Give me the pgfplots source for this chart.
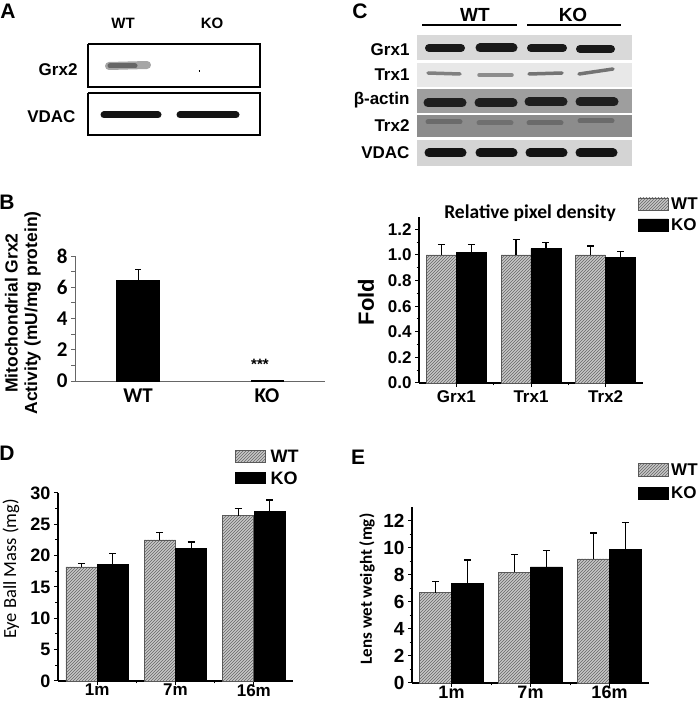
\documentclass[border=0pt]{standalone}
\usepackage{pgfplots}
\pgfplotsset{compat=1.18}
\usepackage{fontspec}
\setmainfont{Liberation Sans}
\newfontfamily\calibri{Carlito}
\usetikzlibrary{patterns}
\newcommand{\fs}[1]{\fontsize{#1}{#1}\selectfont}

\pgfplotsset{
  wtfill/.style={draw=black!65, line width=0.5pt, fill=black!22,
    postaction={pattern=north east lines, pattern color=black!60}},
  kofill/.style={draw=black, line width=0.5pt, fill=black},
  errs/.style={error bars/.cd, y dir=plus, y explicit,
    error bar style={line width=1.3pt, black},
    error mark options={line width=1.3pt, mark size=3.5pt, black, rotate=90}},
  barchart/.style={
    scale only axis, axis lines=left, axis line style={-, line width=1.2pt},
    tick align=outside, major tick length=4pt, minor tick length=2.5pt,
    tick style={black, line width=1pt},
    /pgf/number format/assume math mode=true,
    ybar, bar shift=0pt, clip=false,
    xmin=0.5, xmax=3.5, xtick={1,2,3}, minor xtick={1.5,2.5},
    ymin=0,
  },
}

\begin{document}
\begin{tikzpicture}
\path[use as bounding box] (0,0) rectangle (700pt,703pt);

% ---------- canvas for blots, text and legends (pixel coordinates) ----------
\begin{axis}[at={(0,0)}, anchor=south west, scale only axis,
  width=700pt, height=703pt, xmin=0, xmax=700, ymin=0, ymax=703,
  y dir=reverse, hide axis, clip=false, no markers]

% Panel A blots
\addplot[draw=black, line width=1.3pt] coordinates {(88,44) (260,44) (260,87) (88,87) (88,44)};
\addplot[draw=black, line width=1.3pt] coordinates {(88,93) (260,93) (260,135) (88,135) (88,93)};
\addplot[line width=8pt, line cap=round, black!35] coordinates {(109,66) (147,65)};
\addplot[line width=5pt, line cap=round, black!60] coordinates {(110,66) (135,66)};
\addplot[line width=2pt, black] coordinates {(198.5,71) (199.5,71)};
\addplot[line width=7pt, line cap=round, black!92] coordinates {(104,115) (158,115)};
\addplot[line width=7pt, line cap=round, black!92] coordinates {(180,115) (236,115)};

% Panel C blots: strip backgrounds
\addplot[fill=black!15, draw=none] coordinates {(417,35) (632,35) (632,60) (417,60)};
\addplot[fill=black!9, draw=none] coordinates {(417,63) (632,63) (632,87) (417,87)};
\addplot[fill=black!38, draw=none] coordinates {(417,89) (632,89) (632,113) (417,113)};
\addplot[fill=black!45, draw=none] coordinates {(417,115) (632,115) (632,137) (417,137)};
\addplot[fill=black!17, draw=none] coordinates {(417,140) (632,140) (632,166) (417,166)};
% Grx1
\addplot[line width=8pt, line cap=round, black!90] coordinates {(429,48) (461,48)};
\addplot[line width=9pt, line cap=round, black!90] coordinates {(480,48) (513,48)};
\addplot[line width=8pt, line cap=round, black!90] coordinates {(531,48) (563,48)};
\addplot[line width=8pt, line cap=round, black!90] coordinates {(580,49) (611,49)};
% Trx1
\addplot[line width=3.5pt, line cap=round, black!50] coordinates {(428,73) (460,74)};
\addplot[line width=3.5pt, line cap=round, black!45] coordinates {(479,75) (512,75)};
\addplot[line width=3.5pt, line cap=round, black!55] coordinates {(529,74) (562,73)};
\addplot[line width=3.5pt, line cap=round, black!55] coordinates {(579,74) (613,69)};
% beta-actin
\addplot[line width=9pt, line cap=round, black!88] coordinates {(428,103) (462,103)};
\addplot[line width=9pt, line cap=round, black!88] coordinates {(479,103) (513,103)};
\addplot[line width=9pt, line cap=round, black!88] coordinates {(529,102) (563,102)};
\addplot[line width=9pt, line cap=round, black!88] coordinates {(580,102) (614,102)};
% Trx2
\addplot[line width=5pt, line cap=round, black!58] coordinates {(428,122) (460,122)};
\addplot[line width=5pt, line cap=round, black!56] coordinates {(479,123) (511,123)};
\addplot[line width=5pt, line cap=round, black!58] coordinates {(529,123) (561,123)};
\addplot[line width=5pt, line cap=round, black!58] coordinates {(580,121) (612,121)};
% VDAC
\addplot[line width=9pt, line cap=round, black!92] coordinates {(429,153) (462,153)};
\addplot[line width=9pt, line cap=round, black!92] coordinates {(480,153) (513,153)};
\addplot[line width=9pt, line cap=round, black!92] coordinates {(530,153) (563,153)};
\addplot[line width=9pt, line cap=round, black!92] coordinates {(580,153) (613,153)};
% group lines
\addplot[line width=1.5pt, black] coordinates {(422,25) (517,25)};
\addplot[line width=1.5pt, black] coordinates {(527,25) (621,25)};

% Legends
\addplot[wtfill] coordinates {(638,198) (668,198) (668,210) (638,210) (638,198)};
\addplot[kofill] coordinates {(638,219) (668,219) (668,231) (638,231) (638,219)};
\addplot[wtfill] coordinates {(235,450) (265,450) (265,462) (235,462) (235,450)};
\addplot[kofill] coordinates {(235,472) (265,472) (265,483) (235,483) (235,472)};
\addplot[wtfill] coordinates {(638,463) (668,463) (668,476) (638,476) (638,463)};
\addplot[kofill] coordinates {(638,487) (668,487) (668,499) (638,499) (638,487)};

% Text
\node[font=\bfseries\fs{21}] at (axis cs:8,11) {A};
\node[font=\bfseries\fs{21}] at (axis cs:7,202) {B};
\node[font=\bfseries\fs{21}] at (axis cs:360,11) {C};
\node[font=\bfseries\fs{21}] at (axis cs:7,453) {D};
\node[font=\bfseries\fs{21}] at (axis cs:358,457) {E};

\node[font=\bfseries\fs{15}] at (axis cs:123,23) {WT};
\node[font=\bfseries\fs{15}] at (axis cs:212,23) {KO};
\node[font=\bfseries\fs{17}, anchor=east] at (axis cs:81,70) {Grx2};
\node[font=\bfseries\fs{17}, anchor=east] at (axis cs:79,117) {VDAC};

\node[font=\bfseries\fs{19}] at (axis cs:475,15) {WT};
\node[font=\bfseries\fs{19}] at (axis cs:573,15) {KO};
\node[font=\bfseries\fs{17}, anchor=east] at (axis cs:413,50) {Grx1};
\node[font=\bfseries\fs{17}, anchor=east] at (axis cs:413,75) {Trx1};
\node[font=\bfseries\fs{17}, anchor=east] at (axis cs:413,100) {β-actin};
\node[font=\bfseries\fs{17}, anchor=east] at (axis cs:413,126) {Trx2};
\node[font=\bfseries\fs{17}, anchor=east] at (axis cs:413,153) {VDAC};

\node[font=\bfseries\fs{17}, anchor=west, inner sep=2pt] at (axis cs:669,204) {WT};
\node[font=\bfseries\fs{17}, anchor=west, inner sep=2pt] at (axis cs:669,225) {KO};
\node[font=\bfseries\fs{18}, anchor=west] at (axis cs:267,456) {WT};
\node[font=\bfseries\fs{18}, anchor=west] at (axis cs:267,478) {KO};
\node[font=\bfseries\fs{17}, anchor=west, inner sep=2pt] at (axis cs:669,470) {WT};
\node[font=\bfseries\fs{17}, anchor=west, inner sep=2pt] at (axis cs:669,493) {KO};

\node[font=\calibri\bfseries\fs{19.5}] at (axis cs:530,213) {Relative pixel density};
\node[font=\bfseries\fs{22}, rotate=90] at (axis cs:366,302) {Fold};
\node[font=\bfseries\fs{17.5}, rotate=90, align=center] at (axis cs:23,313) {Mitochondrial Grx2\\[2pt]Activity (mU/mg protein)};
\node[font=\calibri\fs{18.5}, rotate=90] at (axis cs:11,569) {Eye Ball Mass (mg)};
\node[font=\calibri\bfseries\fs{17}, rotate=90] at (axis cs:367,589) {Lens wet weight (mg)};
\node[font=\bfseries\fs{15}] at (axis cs:260,364) {***};
\end{axis}

% ---------- Panel B ----------
\begin{axis}[at={(75pt,322pt)}, anchor=south west, scale only axis,
  width=250pt, height=125pt, axis lines=left,
  axis line style={-, line width=0.8pt, black!60},
  xmin=0, xmax=250, ymin=0, ymax=8,
  ytick={0,2,4,6,8}, minor ytick={1,3,5,7},
  xtick={63,192}, xticklabels={WT,KO},
  tick align=outside, major tick length=4pt, minor tick length=4pt,
  tick style={black!60, line width=0.8pt}, xtick style={draw=none},
  /pgf/number format/assume math mode=true,
  tick label style={font=\calibri\bfseries\fs{21}},
  ybar, bar shift=0pt, bar width=43pt, clip=false]
\addplot[kofill, error bars/.cd, y dir=plus, y explicit,
  error bar style={line width=0.9pt, black},
  error mark options={line width=0.9pt, mark size=3pt, black, rotate=90}]
  coordinates {(63,6.45) +- (0,0.68)};
\addplot[kofill, bar width=32pt] coordinates {(192,0.06)};
\end{axis}

% ---------- Panel C bar chart ----------
\begin{axis}[barchart, at={(419pt,320pt)}, anchor=south west,
  width=224pt, height=166.4pt, ymax=1.3, bar width=30pt,
  ytick={0,0.2,0.4,0.6,0.8,1.0,1.2}, minor ytick={0.1,0.3,0.5,0.7,0.9,1.1},
  xticklabels={Grx1,Trx1,Trx2},
  yticklabel style={/pgf/number format/.cd, fixed, fixed zerofill, precision=1},
  tick label style={font=\bfseries\fs{17}},
  xticklabel style={font=\bfseries\fs{17}}]
\addplot[wtfill, errs] coordinates {(0.8,1.00) +- (0,0.08) (1.8,1.00) +- (0,0.12) (2.8,1.00) +- (0,0.07)};
\addplot[kofill, errs] coordinates {(1.2,1.02) +- (0,0.06) (2.2,1.05) +- (0,0.05) (3.2,0.98) +- (0,0.05)};
\end{axis}

% ---------- Panel D ----------
\begin{axis}[barchart, at={(58pt,22pt)}, anchor=south west,
  width=235pt, height=188pt, ymax=30, bar width=31pt,
  ytick={0,5,10,15,20,25,30}, minor ytick={2.5,7.5,12.5,17.5,22.5,27.5},
  xticklabels={1m,7m,16m},
  tick label style={font=\bfseries\fs{18}},
  xticklabel style={font=\bfseries\fs{17}, inner sep=1pt, yshift=2pt}]
\addplot[wtfill, errs] coordinates {(0.8,18.2) +- (0,0.6) (1.8,22.5) +- (0,1.2) (2.8,26.4) +- (0,1.1)};
\addplot[kofill, errs] coordinates {(1.2,18.6) +- (0,1.7) (2.2,21.2) +- (0,1.0) (3.2,27.1) +- (0,1.8)};
\end{axis}

% ---------- Panel E ----------
\begin{axis}[barchart, at={(412pt,20pt)}, anchor=south west,
  width=237pt, height=175.5pt, ymax=13, bar width=32pt,
  ytick={0,2,4,6,8,10,12}, minor ytick={1,3,5,7,9,11},
  xticklabels={1m,7m,16m},
  tick label style={font=\bfseries\fs{19}},
  xticklabel style={font=\bfseries\fs{18}, inner sep=1pt, yshift=2pt}]
\addplot[wtfill, errs] coordinates {(0.8,6.7) +- (0,0.8) (1.8,8.2) +- (0,1.3) (2.8,9.2) +- (0,1.9)};
\addplot[kofill, errs] coordinates {(1.2,7.4) +- (0,1.7) (2.2,8.6) +- (0,1.2) (3.2,9.9) +- (0,2.0)};
\end{axis}
\end{tikzpicture}
\end{document}
